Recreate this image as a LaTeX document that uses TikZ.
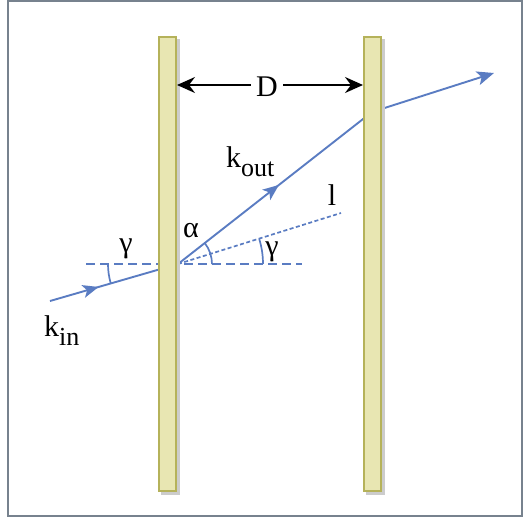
\documentclass[tikz,border=0pt]{standalone}
\usepackage{fontspec}
\setmainfont{Liberation Serif}
\usetikzlibrary{arrows.meta,decorations.markings}
\definecolor{raycol}{HTML}{5A7CC2}
\definecolor{platefill}{HTML}{E8E6B2}
\definecolor{platedraw}{HTML}{B5B25A}
\definecolor{shadowcol}{HTML}{CCCCCC}
\definecolor{framecol}{HTML}{77828E}
\newcommand{\mysub}[1]{\raisebox{-0.3em}{\fontsize{26}{26}\selectfont #1}}
\tikzset{
  plate/.style={draw=platedraw, fill=platefill, line width=2pt, minimum width=17pt, minimum height=454pt, inner sep=0pt},
  plateshadow/.style={fill=shadowcol, draw=none, minimum width=19pt, minimum height=456pt, inner sep=0pt},
  ray/.style={draw=raycol, line width=1.9pt},
  midarrow/.style={postaction={decorate}, decoration={markings, mark=at position #1 with {\arrow{Stealth[length=16pt,width=13pt,inset=4pt]}}}},
  endarrow/.style={-{Stealth[length=17pt,width=14pt,inset=4pt]}},
  dashline/.style={draw=raycol, line width=1.7pt, dash pattern=on 9pt off 5pt},
  dotline/.style={draw=raycol, line width=1.7pt, dash pattern=on 4pt off 2.5pt},
  arcline/.style={draw=raycol, line width=1.7pt},
  lbl/.style={font=\fontsize{30}{33}\selectfont, inner sep=0pt},
  dimarrow/.style={draw=black, line width=1.9pt, -{Stealth[length=18pt,width=16pt,inset=6pt]}},
}
\begin{document}
\begin{tikzpicture}[x=1pt,y=-1pt]
\useasboundingbox (0,0) rectangle (523,520);
\draw[framecol, line width=2.2pt] (8,1) rectangle (522,516);
% key points
\coordinate (v) at (178,264);
\coordinate (inS) at (50,301);
\coordinate (hit) at (372,112);
\coordinate (outE) at (494,73);
\coordinate (hL) at (86,264);
\coordinate (hR) at (302,264);
\coordinate (lE) at (341,213);
% rays
\draw[ray, midarrow=0.38] (inS) -- (v);
\draw[ray, midarrow=0.52] (v) -- (hit);
\draw[ray, endarrow] (hit) -- (outE);
\draw[dashline] (hL) -- (hR);
\draw[dotline] (v) -- (lE);
% plates
\node[plateshadow] at (170.5,267) {};
\node[plateshadow] at (375.5,267) {};
\node[plate] (p1) at (167.5,264) {};
\node[plate] (p2) at (372.5,264) {};
% arcs
\draw[arcline] ([shift={(164:70)}]v) arc[start angle=164, end angle=180, radius=70];
\draw[arcline] ([shift={(-38:34)}]v) arc[start angle=-38, end angle=0, radius=34];
\draw[arcline] ([shift={(-17:85)}]v) arc[start angle=-17, end angle=0, radius=85];
% dimension D
\node[lbl, inner xsep=5pt, anchor=base] (D) at (267,96) {D};
\draw[dimarrow] (D.west |- 0,85) -- (p1.east |- 0,85);
\draw[dimarrow] (D.east |- 0,85) -- (p2.west |- 0,85);
% labels
\node[lbl, anchor=base] (g1) at (126,252) {γ};
\node[lbl, anchor=base] (al) at (191,237) {α};
\node[lbl, anchor=base] (g2) at (272,255) {γ};
\node[lbl, anchor=base] (ll) at (332,205) {l};
\node[lbl, anchor=base west] (ko) at (226,167) {k\mysub{out}};
\node[lbl, anchor=base west] (ki) at (44,336) {k\mysub{in}};
\end{tikzpicture}
\end{document}
